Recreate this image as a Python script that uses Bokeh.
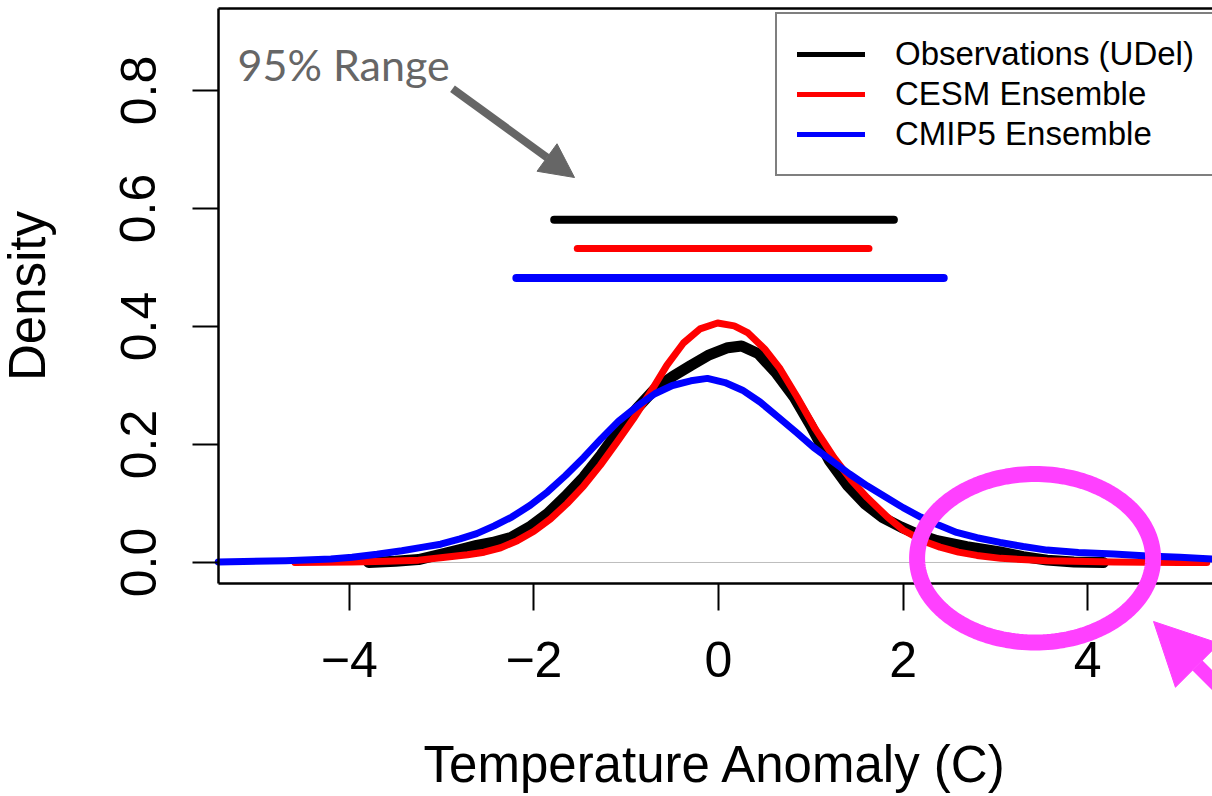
import numpy as np
from bokeh.plotting import figure
from bokeh.models import (Range1d, FixedTicker, NumeralTickFormatter, Legend, LegendItem, LinearAxis,
                          Label, Arrow, NormalHead, PolyAnnotation, ColumnDataSource)
from bokeh.embed import file_html
from bokeh.resources import INLINE

# ---------------- data ----------------
obs_x = [-3.79, -3.50, -3.25, -3.01, -2.80, -2.62, -2.45, -2.24, -2.05, -1.85, -1.66, -1.46, -1.27,
         -1.08, -0.88, -0.69, -0.50, -0.30, -0.10, 0.10, 0.25, 0.43, 0.62, 0.82, 1.00, 1.20, 1.40,
         1.59, 1.78, 1.98, 2.17, 2.37, 2.69, 3.05, 3.30, 3.56, 3.85, 4.17]
obs_y = [0.000, 0.002, 0.005, 0.014, 0.022, 0.029, 0.034, 0.043, 0.060, 0.083, 0.112, 0.145, 0.183,
         0.224, 0.262, 0.294, 0.315, 0.334, 0.352, 0.364, 0.367, 0.354, 0.322, 0.280, 0.232, 0.173, 0.130,
         0.099, 0.076, 0.060, 0.047, 0.037, 0.027, 0.018, 0.010, 0.004, 0.001, 0.000]

cesm_x = [-4.59, -3.97, -3.60, -3.25, -3.01, -2.72, -2.54, -2.36, -2.18, -2.00, -1.82, -1.64, -1.46,
          -1.28, -1.10, -0.92, -0.74, -0.56, -0.38, -0.20, -0.01, 0.17, 0.32, 0.50, 0.66, 0.85, 1.05,
          1.25, 1.44, 1.61, 1.83, 2.00, 2.21, 2.40, 2.60, 2.80, 3.06, 3.56, 4.28, 5.00, 5.29]
cesm_y = [0.000, 0.001, 0.002, 0.004, 0.008, 0.013, 0.0175, 0.025, 0.037, 0.053, 0.074, 0.100, 0.130,
          0.165, 0.204, 0.244, 0.288, 0.334, 0.372, 0.396, 0.406, 0.401, 0.389, 0.362, 0.330, 0.281, 0.226,
          0.178, 0.139, 0.110, 0.077, 0.055, 0.037, 0.026, 0.0175, 0.012, 0.007, 0.003, 0.001, 0.000, 0.000]

cmip_x = [-5.42, -4.69, -4.20, -3.97, -3.70, -3.43, -3.20, -3.01, -2.80, -2.62, -2.43, -2.24, -2.04,
          -1.85, -1.66, -1.46, -1.27, -1.08, -0.88, -0.69, -0.50, -0.30, -0.12, 0.07, 0.26, 0.45, 0.65,
          0.84, 1.03, 1.23, 1.42, 1.61, 1.81, 2.00, 2.19, 2.39, 2.58, 2.80, 3.05, 3.30, 3.56, 3.90, 4.28,
          4.65, 5.00, 5.35]
cmip_y = [0.001, 0.003, 0.006, 0.009, 0.014, 0.020, 0.026, 0.031, 0.040, 0.049, 0.062, 0.077, 0.097,
          0.120, 0.147, 0.178, 0.210, 0.240, 0.265, 0.286, 0.300, 0.308, 0.312, 0.305, 0.292, 0.272, 0.246,
          0.221, 0.195, 0.172, 0.150, 0.130, 0.111, 0.093, 0.077, 0.063, 0.051, 0.042, 0.034, 0.027, 0.021,
          0.017, 0.0145, 0.011, 0.009, 0.006]

series_names = ["Observations (UDel)", "CESM Ensemble", "CMIP5 Ensemble"]
series_colors = ["#000000", "#ff0000", "#0000ff"]

range_lo = [-1.78, -1.53, -2.19]
range_hi = [1.90, 1.63, 2.44]
range_y = [0.581, 0.532, 0.482]

x_ticks = [-4, -2, 0, 2, 4]
x_tick_labels = ["\u22124", "\u22122", "0", "2", "4"]
y_ticks = [0.0, 0.2, 0.4, 0.6, 0.8]

# plot box (data limits of the R plot region)
box_x = (-5.417, 5.352)
box_y = (-0.0356, 0.939)

FONT = "Liberation Sans"

# ---------------- figure: frame covers the whole canvas ----------------
p = figure(width=1212, height=796, output_backend="svg", toolbar_location=None,
           x_range=Range1d(-7.779, 5.352), y_range=Range1d(-0.3966, 0.9525),
           x_axis_location=None, y_axis_location=None,
           min_border_left=0, min_border_right=0, min_border_top=0, min_border_bottom=0)
p.outline_line_color = None
p.grid.visible = False
p.background_fill_color = "white"
p.border_fill_color = "white"


def style_axis(ax):
    ax.axis_line_width = 2.5
    ax.axis_line_color = "black"
    ax.major_tick_line_width = 2
    ax.major_tick_line_color = "black"
    ax.major_tick_in = 0
    ax.minor_tick_line_color = None
    ax.major_label_text_font = FONT
    ax.major_label_text_font_size = "50px"
    ax.major_label_text_color = "black"
    ax.axis_label_text_font = FONT
    ax.axis_label_text_font_size = "51px"
    ax.axis_label_text_font_style = "normal"
    ax.axis_label_text_color = "black"


xaxis = LinearAxis(fixed_location=box_y[0], bounds=box_x, ticker=FixedTicker(ticks=x_ticks),
                   axis_label="Temperature Anomaly (C)")
style_axis(xaxis)
xaxis.major_label_overrides = {t: l for t, l in zip(x_ticks, x_tick_labels)}
xaxis.major_tick_out = 27
xaxis.major_label_standoff = 31
xaxis.axis_label_standoff = 56
p.add_layout(xaxis, "below")

yaxis = LinearAxis(fixed_location=box_x[0], bounds=box_y, ticker=FixedTicker(ticks=y_ticks),
                   formatter=NumeralTickFormatter(format="0.0"), axis_label="Density")
style_axis(yaxis)
yaxis.major_tick_out = 26
yaxis.major_label_standoff = 37
yaxis.major_label_orientation = "parallel"
yaxis.axis_label_standoff = 62
p.add_layout(yaxis, "left")

topaxis = LinearAxis(fixed_location=box_y[1], bounds=box_x, ticker=FixedTicker(ticks=[]))
style_axis(topaxis)
p.add_layout(topaxis, "above")

# zero line (abline h = 0)
p.segment(x0=[box_x[0]], y0=[0], x1=[box_x[1]], y1=[0], line_color="#bebebe", line_width=1, level="underlay")

# legend proxies (thin copies hidden under the curves)
proxies = []
for xs, ys, col in zip((obs_x, cesm_x, cmip_x), (obs_y, cesm_y, cmip_y), series_colors):
    proxies.append(p.line(xs, ys, line_color=col, line_width=5, line_cap="round"))

# density curves
p.line(obs_x, obs_y, line_color=series_colors[0], line_width=11, line_join="round", line_cap="round")
p.line(cesm_x, cesm_y, line_color=series_colors[1], line_width=7, line_join="round", line_cap="round")
p.line(cmip_x, cmip_y, line_color=series_colors[2], line_width=7, line_join="round", line_cap="round")

# 95% ranges
rsrc = ColumnDataSource(dict(x0=range_lo, x1=range_hi, y=range_y, c=series_colors, w=[8, 7, 8]))
p.segment(x0="x0", y0="y", x1="x1", y1="y", source=rsrc, line_color="c", line_width="w", line_cap="round")

legend = Legend(items=[LegendItem(label=n, renderers=[r]) for n, r in zip(series_names, proxies)],
                location=(775, 620), orientation="vertical",
                label_text_font=FONT, label_text_font_size="33px", label_text_color="black",
                glyph_width=68, glyph_height=40, label_height=40, label_standoff=30,
                padding=20, spacing=0, margin=0,
                border_line_color="black", border_line_width=2,
                background_fill_color="white", background_fill_alpha=1.0)
p.add_layout(legend, "center")

# annotation: 95% Range
p.add_layout(Label(x=-5.21, y=0.844, text="95% Range", text_font="Lato", text_font_size="43px",
                   text_color="#666666", text_baseline="alphabetic", text_align="left"))
p.add_layout(Arrow(end=NormalHead(size=34, fill_color="#666666", line_color="#666666", line_width=1),
                   x_start=-2.882, y_start=0.803, x_end=-1.56, y_end=0.6525,
                   line_color="#666666", line_width=8))

# magenta highlight ellipse + arrow
cx, cy, rx, ry = 3.43, 0.0072, 1.2785, 0.1428
t = np.linspace(0, 2 * np.pi, 181)
p.add_layout(PolyAnnotation(xs=list(cx + rx * np.cos(t)), ys=list(cy + ry * np.sin(t)),
                            fill_alpha=0, line_color="#ff40ff", line_alpha=1.0, line_width=16))
p.add_layout(Arrow(end=NormalHead(size=62, fill_color="#ff40ff", line_color="#ff40ff", line_width=1),
                   x_start=6.013, y_start=-0.3034, x_end=4.713, y_end=-0.100,
                   line_color="#ff40ff", line_width=14))

open("out.html", "w").write(file_html(p, INLINE))
